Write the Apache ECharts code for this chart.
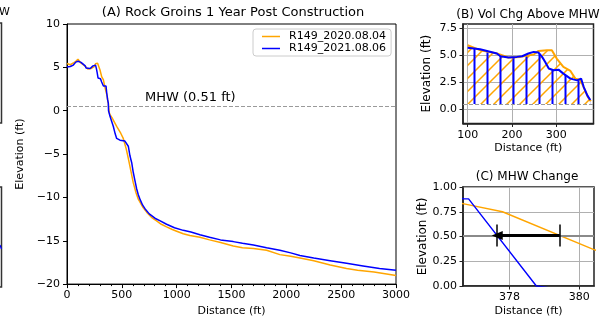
<!DOCTYPE html>
<html><head><meta charset="utf-8">
<script src="https://cdn.jsdelivr.net/npm/echarts@6/dist/echarts.min.js"></script>
<style>html,body{margin:0;padding:0;background:#fff}#c{width:604px;height:322px}</style>
</head><body><div id="c"></div>
<script>
// ---------- data ----------
const seriesNames = ['R149_2020.08.04', 'R149_2021.08.06'];
const dist2020 = [0,30,58,80,100,128,150,166,192,219,249,260,279,290,301,316,332,343,354,365,372,376.7,377.8,380.4,385,392,410,453,490,513,540,559,580,604,630,650,690,726,770,817,860,908,960,1000,1060,1120,1212,1300,1400,1516,1600,1700,1820,1941,2040,2124,2250,2400,2549,2650,2800,2900,3000];
const elev2020 = [5.45,5.3,5.5,5.7,5.94,5.48,5.3,5.17,4.8,4.86,5.08,5.41,5.48,5.48,4.7,3.93,3.56,2.85,2.75,1.76,1.1,0.83,0.75,0.37,-0.2,-0.45,-0.8,-1.8,-2.6,-3.2,-4.4,-5.5,-6.8,-8.3,-9.5,-10.2,-11.1,-11.7,-12.3,-12.7,-13.1,-13.4,-13.7,-13.9,-14.2,-14.4,-14.6,-14.9,-15.2,-15.6,-15.8,-15.9,-16.1,-16.6,-16.8,-17.0,-17.3,-17.8,-18.2,-18.4,-18.6,-18.8,-19.0];
const dist2021 = [0,30,58,80,100,128,166,174,192,211,223,237,249,260,268,275,283,294,305,316,332,347,356,362,370,376.7,376.83,378.77,392,400,422,440,453,470,483,500,528,545,559,574,590,604,620,635,650,665,690,711,750,802,850,908,980,1060,1130,1212,1300,1400,1516,1600,1700,1820,1941,2040,2124,2250,2400,2549,2700,2850,3000];
const elev2021 = [5.05,5.1,5.26,5.6,5.7,5.57,5.17,4.92,4.8,4.86,4.92,5.17,5.32,5.26,4.86,4.39,3.78,3.62,3.68,3.31,2.85,2.69,2.85,2.07,1.3,0.88,0.88,0.0,-0.65,-0.8,-1.8,-2.7,-3.2,-3.3,-3.4,-3.35,-3.5,-3.7,-4.1,-5.2,-6.0,-7.1,-8.1,-9.0,-9.7,-10.2,-10.9,-11.3,-11.9,-12.4,-12.7,-13.1,-13.5,-13.8,-14.0,-14.3,-14.6,-14.9,-15.1,-15.3,-15.5,-15.8,-16.1,-16.4,-16.7,-17.0,-17.3,-17.6,-17.9,-18.2,-18.4];
const mhwValue = 0.51;
const mhwCross2020 = 379.44;
const mhwCross2021 = 377.65;
const mainXTicks = [0,500,1000,1500,2000,2500,3000];
const mainYTicks = [-20,-15,-10,-5,0,5,10];
const volXTicks = [100,200,300];
const volYTicks = [0,2.5,5,7.5];
const chgXTicks = [378,380];
const chgYTicks = [0,0.25,0.5,0.75,1.0];
const titles = ['(A) Rock Groins 1 Year Post Construction','(B) Vol Chg Above MHW','(C) MHW Change'];

// ---------- helpers ----------
const FONT = 'DejaVu Sans';
const ORANGE = '#FFA500', BLUE = '#0000FF';
const zip = (xs, ys) => xs.map((x, i) => [x, ys[i]]);
const p2020 = zip(dist2020, elev2020), p2021 = zip(dist2021, elev2021);
const vol2020 = p2020.filter(p => p[0] >= 100 && p[0] <= 378);
const vol2021 = p2021.filter(p => p[0] >= 100 && p[0] <= 377);
const chg2020 = p2020.filter(p => p[0] >= 370 && p[0] <= 386);
const chg2021 = p2021.filter(p => p[0] >= 365 && p[0] <= 393);

function hatch(kind) {
  const s = 13, c = document.createElement('canvas');
  c.width = s; c.height = s;
  const g = c.getContext('2d');
  if (kind === 'diag') {
    g.strokeStyle = ORANGE; g.lineWidth = 1.5;
    g.beginPath();
    g.moveTo(-1, s + 1); g.lineTo(s + 1, -1);
    g.moveTo(-2, 2); g.lineTo(2, -2);
    g.moveTo(s - 2, s + 2); g.lineTo(s + 2, s - 2);
    g.stroke();
  } else {
    g.strokeStyle = BLUE; g.lineWidth = 2;
    g.beginPath(); g.moveTo(6.5, -1); g.lineTo(6.5, s + 1); g.stroke();
  }
  return c;
}

const tickLbl = { color: '#000', fontFamily: FONT, fontSize: 11 };
const nameStyle = { color: '#000', fontFamily: FONT, fontSize: 11 };
const nameStyleBig = { color: '#000', fontFamily: FONT, fontSize: 12 };
function axisCommon(extra) {
  return Object.assign({
    type: 'value',
    axisLine: { show: true, onZero: false, lineStyle: { color: '#000', width: 1 } },
    axisTick: { show: true, inside: false, length: 4, lineStyle: { color: '#000', width: 1 } },
    splitLine: { show: false },
    nameLocation: 'middle',
    nameTextStyle: nameStyle
  }, extra);
}
const minus = v => String(v).replace('-', '\u2212');

const chart = echarts.init(document.getElementById('c'), null, { renderer: 'canvas' });
chart.setOption({
  animation: false,
  backgroundColor: '#fff',
  textStyle: { fontFamily: FONT },
  grid: [
    { left: 67, top: 24, width: 329, height: 262, show: true, borderColor: '#000', borderWidth: 1 },
    { left: 463, top: 24, width: 130.5, height: 99.5, show: true, borderColor: '#222', borderWidth: 1.5 },
    { left: 463, top: 187, width: 131, height: 99, show: true, borderColor: '#222', borderWidth: 1.5 }
  ],
  xAxis: [
    axisCommon({ gridIndex: 0, min: 0, max: 3000, interval: 500, name: 'Distance (ft)', nameGap: 20,
      minorTick: { show: true, splitNumber: 5, length: 2, lineStyle: { color: '#000' } },
      axisLabel: Object.assign({ margin: 6, formatter: minus }, tickLbl) }),
    axisCommon({ gridIndex: 1, min: 89.5, max: 384, name: 'Distance (ft)', nameGap: 19,
      axisLine: { show: true, onZero: false, lineStyle: { color: '#222', width: 1.5 } },
      axisTick: { show: true, length: 3.5, customValues: volXTicks, lineStyle: { color: '#222' } },
      axisLabel: Object.assign({ margin: 6, customValues: volXTicks }, tickLbl),
      splitLine: { show: true, lineStyle: { color: '#b0b0b0', width: 1 } } }),
    axisCommon({ gridIndex: 2, min: 376.67, max: 380.42, name: 'Distance (ft)', nameGap: 20,
      axisLine: { show: true, onZero: false, lineStyle: { color: '#222', width: 1.5 } },
      axisTick: { show: true, length: 3.5, customValues: chgXTicks, lineStyle: { color: '#222' } },
      axisLabel: Object.assign({ margin: 6, customValues: chgXTicks }, tickLbl),
      splitLine: { show: true, lineStyle: { color: '#b0b0b0', width: 1 } } })
  ],
  yAxis: [
    axisCommon({ gridIndex: 0, min: -20, max: 10, interval: 5, name: 'Elevation (ft)', nameGap: 34,
      axisLabel: Object.assign({ margin: 7, formatter: minus }, tickLbl) }),
    axisCommon({ gridIndex: 1, min: -1.3, max: 7.9, name: 'Elevation (ft)', nameGap: 30, nameTextStyle: nameStyleBig,
      axisLine: { show: true, onZero: false, lineStyle: { color: '#222', width: 1.5 } },
      axisTick: { show: true, length: 3.5, customValues: volYTicks, lineStyle: { color: '#222' } },
      axisLabel: Object.assign({ margin: 6, customValues: volYTicks, formatter: v => v.toFixed(1) }, tickLbl),
      splitLine: { show: true, lineStyle: { color: '#b0b0b0', width: 1 } } }),
    axisCommon({ gridIndex: 2, min: 0, max: 1, interval: 0.25, name: 'Elevation (ft)', nameGap: 30, nameTextStyle: nameStyleBig,
      axisLine: { show: true, onZero: false, lineStyle: { color: '#222', width: 1.5 } },
      axisTick: { show: true, length: 3.5, lineStyle: { color: '#222' } },
      axisLabel: Object.assign({ margin: 6, formatter: v => v.toFixed(2) }, tickLbl),
      splitLine: { show: true, lineStyle: { color: '#b0b0b0', width: 1 } } })
  ],
  legend: {
    left: 253, top: 29, orient: 'vertical',
    data: seriesNames,
    icon: 'rect',
    itemWidth: 18, itemHeight: 1.5, itemGap: 1,
    padding: [2, 5, 2, 9],
    borderColor: '#cccccc', borderWidth: 1, borderRadius: 3,
    backgroundColor: 'rgba(255,255,255,0.8)',
    textStyle: { color: '#000', fontFamily: FONT, fontSize: 11, padding: [0, 0, 0, 4] }
  },
  series: [
    { name: seriesNames[0], type: 'line', xAxisIndex: 0, yAxisIndex: 0, data: p2020, symbol: 'none',
      lineStyle: { color: ORANGE, width: 1.5 }, itemStyle: { color: ORANGE },
      markLine: { silent: true, symbol: 'none', label: { show: false },
        lineStyle: { color: '#9a9a9a', type: [4, 2], width: 1.2 }, data: [{ yAxis: mhwValue }] } },
    { name: seriesNames[1], type: 'line', xAxisIndex: 0, yAxisIndex: 0, data: p2021, symbol: 'none',
      lineStyle: { color: BLUE, width: 1.5 }, itemStyle: { color: BLUE } },
    { type: 'line', xAxisIndex: 1, yAxisIndex: 1, data: vol2020, symbol: 'none',
      lineStyle: { color: ORANGE, width: 2 },
      areaStyle: { origin: mhwValue, opacity: 1, color: { image: hatch('diag'), repeat: 'repeat' } },
      markLine: { silent: true, symbol: 'none', label: { show: false },
        lineStyle: { color: '#9a9a9a', type: [4, 2], width: 1.2 }, data: [{ yAxis: mhwValue }] } },
    { type: 'line', xAxisIndex: 1, yAxisIndex: 1, data: vol2021, symbol: 'none',
      lineStyle: { color: BLUE, width: 2 },
      areaStyle: { origin: mhwValue, opacity: 1, color: { image: hatch('vert'), repeat: 'repeat' } } },
    { type: 'line', xAxisIndex: 2, yAxisIndex: 2, data: chg2020, symbol: 'none', clip: true,
      lineStyle: { color: ORANGE, width: 1.4 },
      markLine: { silent: true, symbol: 'none', label: { show: false },
        lineStyle: { color: '#8a8a8a', type: 'solid', width: 2 }, data: [{ yAxis: mhwValue }] } },
    { type: 'line', xAxisIndex: 2, yAxisIndex: 2, data: chg2021, symbol: 'none', clip: true,
      lineStyle: { color: BLUE, width: 1.4 },
      markLine: { silent: true, label: { show: false }, symbol: 'none',
        data: [
          [{ coord: [mhwCross2020, mhwValue], symbol: 'none', lineStyle: { color: '#000', width: 3, type: 'solid' } },
           { coord: [mhwCross2021, mhwValue], symbol: 'triangle', symbolSize: [9, 11] }],
          [{ coord: [mhwCross2020, mhwValue - 0.11], symbol: 'none', lineStyle: { color: '#000', width: 1.5, type: 'solid' } },
           { coord: [mhwCross2020, mhwValue + 0.11], symbol: 'none' }],
          [{ coord: [mhwCross2021, mhwValue - 0.11], symbol: 'none', lineStyle: { color: '#000', width: 1.5, type: 'solid' } },
           { coord: [mhwCross2021, mhwValue + 0.11], symbol: 'none' }]
        ],
        itemStyle: { color: '#000' } } }
  ],
  graphic: [
    { type: 'text', x: 233, y: 13, style: { text: titles[0], font: '13px "DejaVu Sans"', fill: '#000', textAlign: 'center', textVerticalAlign: 'middle' } },
    { type: 'text', x: 528, y: 15, style: { text: titles[1], font: '12px "DejaVu Sans"', fill: '#000', textAlign: 'center', textVerticalAlign: 'middle' } },
    { type: 'text', x: 527, y: 177, style: { text: titles[2], font: '12px "DejaVu Sans"', fill: '#000', textAlign: 'center', textVerticalAlign: 'middle' } },
    { type: 'text', x: 145, y: 98, style: { text: 'MHW (' + mhwValue + ' ft)', font: '13px "DejaVu Sans"', fill: '#000', textAlign: 'left', textVerticalAlign: 'middle' } },
    { type: 'text', x: -1, y: 12, style: { text: 'W', font: '11px "DejaVu Sans"', fill: '#000', textAlign: 'left', textVerticalAlign: 'middle' } },
    { type: 'rect', shape: { x: -20, y: 23, width: 21.5, height: 100 }, style: { fill: 'none', stroke: '#333', lineWidth: 1.5 } },
    { type: 'rect', shape: { x: -20, y: 187, width: 21.5, height: 100 }, style: { fill: 'none', stroke: '#333', lineWidth: 1.5 } },
    { type: 'line', shape: { x1: 0, y1: 245, x2: 1.5, y2: 249 }, style: { stroke: BLUE, lineWidth: 1.2 } }
  ]
});
</script>
</body></html>
